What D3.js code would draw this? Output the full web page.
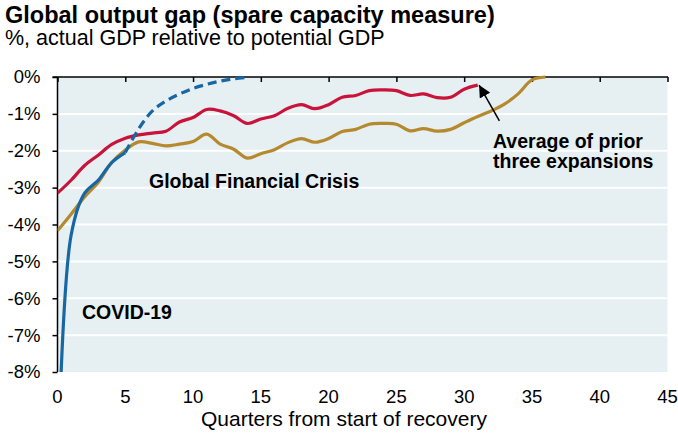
<!doctype html>
<html>
  <head>
    <style>
      body { margin: 0; background: white; }
      text { font-family: "Liberation Sans", Arial, Helvetica, sans-serif; fill: #000; }
      .title { font-weight: bold; font-size: 23.5px; }
      .subtitle { font-size: 21.5px; }
      .tick-label { font-size: 18.5px; }
      .note { font-weight: bold; font-size: 19.5px; }
    </style>
    <script src="https://cdn.jsdelivr.net/npm/d3@7"></script>
  </head>
  <body>
    <div id="chart"></div>
    <script>
      // quarters from start of recovery
      var gfcQuarters = d3.range(0, 32);
      var priorQuarters = d3.range(0, 37);
      var covidQuarters = [0, 1, 2, 3, 4, 5];
      var covidProjQuarters = [5, 6, 7, 8, 9, 10, 11, 12, 13, 14];

      // output gap, % of potential GDP
      var gfcValues = [-3.15, -2.8, -2.4, -2.12, -1.83, -1.66, -1.57, -1.52, -1.47, -1.22,
                       -1.1, -0.88, -0.92, -1.05, -1.26, -1.14, -1.05, -0.85, -0.75, -0.86,
                       -0.75, -0.55, -0.5, -0.37, -0.35, -0.37, -0.5, -0.46, -0.56, -0.55,
                       -0.33, -0.22];
      var priorValues = [-4.17, -3.72, -3.25, -2.86, -2.32, -1.98, -1.76, -1.8, -1.87, -1.82,
                         -1.75, -1.55, -1.82, -1.96, -2.2, -2.08, -1.97, -1.78, -1.67, -1.77,
                         -1.67, -1.48, -1.42, -1.28, -1.26, -1.28, -1.46, -1.4, -1.47, -1.42,
                         -1.24, -1.07, -0.92, -0.73, -0.45, -0.08, 0];
      var covidValues = [-10.9, -4.3, -3.15, -2.8, -2.32, -2.05];
      var covidProjValues = [-2.05, -1.4, -0.92, -0.65, -0.46, -0.31, -0.2, -0.11, -0.05, -0.01];

      var xTicks = d3.range(0, 46, 5);
      var yTicks = d3.range(0, -9, -1);

      var width = 678, height = 433;
      var plotLeft = 57.5, plotRight = 667.5, plotTop = 77, plotBottom = 372;

      var x = d3.scaleLinear().domain([0, 45]).range([plotLeft, plotRight]);
      var y = d3.scaleLinear().domain([-8, 0]).range([plotBottom, plotTop]);

      var svg = d3.select("#chart").append("svg")
                  .attr("width", width)
                  .attr("height", height);

      // titles
      svg.append("text").attr("class", "title").attr("x", 5).attr("y", 23)
         .text("Global output gap (spare capacity measure)");
      svg.append("text").attr("class", "subtitle").attr("x", 5).attr("y", 45)
         .text("%, actual GDP relative to potential GDP");

      // plot background
      svg.append("rect")
         .attr("x", plotLeft).attr("y", plotTop)
         .attr("width", plotRight - plotLeft).attr("height", plotBottom - plotTop)
         .attr("fill", "#e6eff2");

      svg.append("clipPath").attr("id", "plot-clip")
         .append("rect")
         .attr("x", plotLeft).attr("y", plotTop - 3)
         .attr("width", plotRight - plotLeft).attr("height", plotBottom - plotTop + 3);

      // horizontal gridlines
      svg.selectAll(".grid")
         .data(yTicks.filter(function(d) { return d < 0 && d > -8; }))
         .enter().append("line")
         .attr("class", "grid")
         .attr("x1", plotLeft).attr("x2", plotRight)
         .attr("y1", function(d) { return y(d); })
         .attr("y2", function(d) { return y(d); })
         .attr("stroke", "white")
         .attr("stroke-width", 2);

      // y axis on the left
      var yAxis = d3.axisLeft(y).tickValues(yTicks).tickSize(5).tickPadding(12)
                    .tickFormat(function(d) { return d + "%"; });
      var gy = svg.append("g").attr("transform", "translate(" + plotLeft + ",0)").call(yAxis);
      gy.attr("font-family", null).attr("font-size", null);
      gy.select(".domain").attr("stroke", "#000").attr("stroke-width", 1.5)
        .attr("d", "M0," + plotTop + "V" + plotBottom);
      gy.selectAll(".tick line").attr("stroke", "#000").attr("stroke-width", 1.5);
      gy.selectAll(".tick text").attr("class", "tick-label");

      // zero line with ticks pointing down
      var xAxisTop = d3.axisBottom(x).tickValues(xTicks).tickSize(5).tickFormat("");
      var gx = svg.append("g").attr("transform", "translate(0," + plotTop + ")").call(xAxisTop);
      gx.select(".domain").attr("stroke", "#000").attr("stroke-width", 1.5)
        .attr("d", "M" + (plotLeft - 5) + ",0H" + (plotRight + 0.5));
      gx.selectAll(".tick line").attr("stroke", "#000").attr("stroke-width", 1.5);

      // x labels at the bottom, no axis line
      svg.selectAll(".xlab")
         .data(xTicks)
         .enter().append("text")
         .attr("class", "tick-label xlab")
         .attr("x", function(d) { return x(d); })
         .attr("y", 403)
         .attr("text-anchor", "middle")
         .text(function(d) { return d; });

      svg.append("text")
         .attr("class", "subtitle")
         .attr("x", 344).attr("y", 426)
         .attr("text-anchor", "middle")
         .style("font-size", "21px")
         .text("Quarters from start of recovery");

      // lines
      var line = d3.line()
                   .x(function(d) { return x(d[0]); })
                   .y(function(d) { return y(d[1]); })
                   .curve(d3.curveCatmullRom.alpha(0.5));

      var plot = svg.append("g").attr("clip-path", "url(#plot-clip)");

      function addLine(qs, vals, color, dash) {
        plot.append("path")
            .datum(d3.zip(qs, vals))
            .attr("d", line)
            .attr("fill", "none")
            .attr("stroke", color)
            .attr("stroke-width", 3.2)
            .attr("stroke-linejoin", "round")
            .attr("stroke-dasharray", dash || null);
      }

      addLine(priorQuarters, priorValues, "#b5892e");
      addLine(gfcQuarters, gfcValues, "#c8133b");
      addLine(covidProjQuarters, covidProjValues, "#1767a5", "9,5");
      addLine(covidQuarters, covidValues, "#1767a5");

      // annotations
      svg.append("text").attr("class", "note").attr("x", 149).attr("y", 188)
         .text("Global Financial Crisis");
      svg.append("text").attr("class", "note").attr("x", 82).attr("y", 319)
         .text("COVID-19");
      svg.append("text").attr("class", "note").attr("x", 493).attr("y", 148)
         .text("Average of prior");
      svg.append("text").attr("class", "note").attr("x", 493).attr("y", 168)
         .text("three expansions");

      // arrow to the end of the GFC line
      svg.append("defs").append("marker")
         .attr("id", "arrow")
         .attr("viewBox", "0 0 10 10")
         .attr("refX", 10).attr("refY", 5)
         .attr("markerWidth", 8).attr("markerHeight", 8)
         .attr("markerUnits", "strokeWidth")
         .attr("orient", "auto")
         .append("path")
         .attr("d", "M0,0L10,5L0,10Z")
         .attr("fill", "#000");

      svg.append("line")
         .attr("x1", x(32.6)).attr("y1", y(-1.19))
         .attr("x2", x(31.1)).attr("y2", y(-0.22))
         .attr("stroke", "#000")
         .attr("stroke-width", 1.5)
         .attr("marker-end", "url(#arrow)");
    </script>
  </body>
</html>
